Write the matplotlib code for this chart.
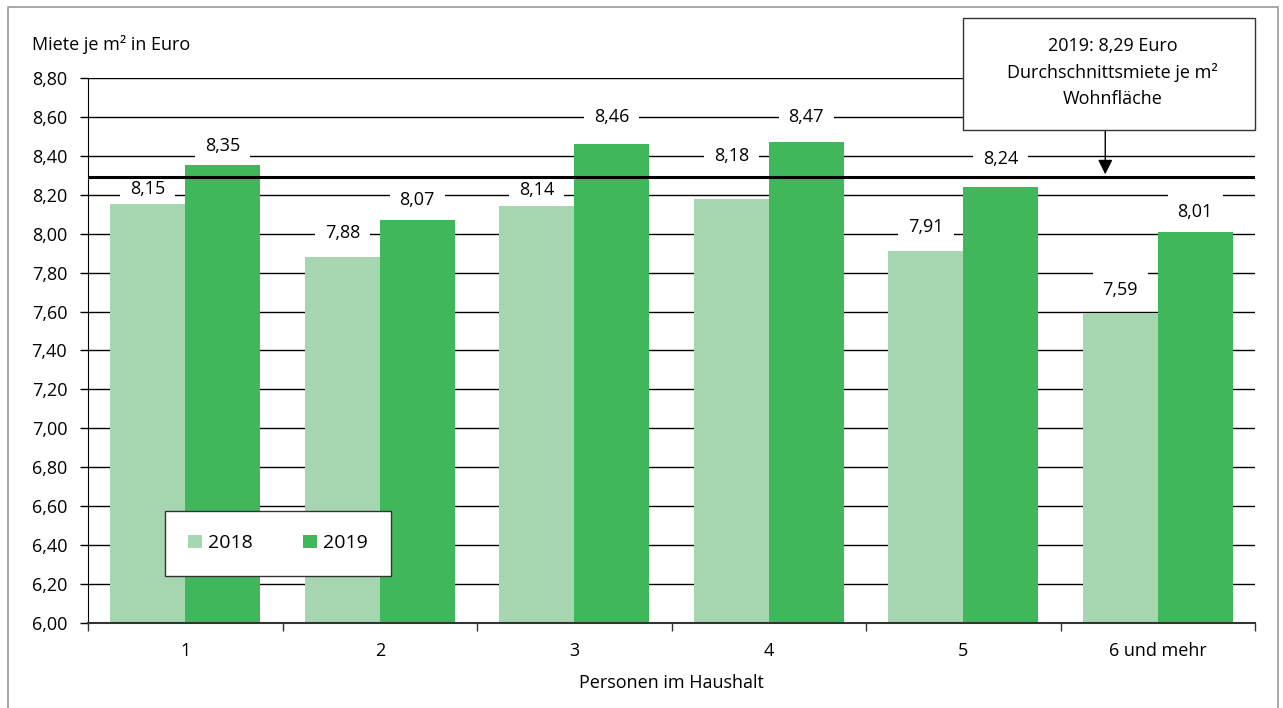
import numpy as np
import matplotlib.pyplot as plt
from matplotlib.patches import Rectangle

plt.rcParams['font.family'] = ['Open Sans', 'DejaVu Sans']

kategorien = ['1', '2', '3', '4', '5', '6 und mehr']
miete_2018 = [8.15, 7.88, 8.14, 8.18, 7.91, 7.59]
miete_2019 = [8.35, 8.07, 8.46, 8.47, 8.24, 8.01]
durchschnitt_2019 = 8.29
yticks = [6.0, 6.2, 6.4, 6.6, 6.8, 7.0, 7.2, 7.4, 7.6, 7.8, 8.0, 8.2, 8.4, 8.6, 8.8]

hell = '#a5d6b0'
dunkel = '#41b75b'
fs = 13

# Abstand der Beschriftung über dem Balken (Pixel), wie im Original von Hand gesetzt
abstand_2018 = [15, 24, 16, 43, 24, 23]
abstand_2019 = [19, 20, 27, 25, 28, 20]

fig = plt.figure(figsize=(12.83, 7.08), dpi=100)
ax = fig.add_axes([0.0686, 0.12, 0.9096, 0.77])

# grauer Rahmen um das Bild
fig.patches.append(Rectangle((0.006, -0.01), 0.99, 1.0, transform=fig.transFigure,
                             fill=False, edgecolor='#999999', lw=1.2))

x = np.arange(len(kategorien))
w = 0.385
ax.bar(x - w / 2, miete_2018, w, color=hell, label='2018', zorder=2)
ax.bar(x + w / 2, miete_2019, w, color=dunkel, label='2019', zorder=2)

ax.set_ylim(6.0, 8.8)
ax.set_xlim(-0.5, len(kategorien) - 0.5)
ax.set_yticks(yticks)
ax.set_yticklabels([f'{v:.2f}'.replace('.', ',') for v in yticks], fontsize=fs)
ax.yaxis.grid(True, color='black', lw=1.0, zorder=1)
ax.set_axisbelow(True)

ax.set_xticks(x)
ax.set_xticklabels(kategorien, fontsize=fs)
ax.tick_params(axis='x', length=0, pad=14)
ax.set_xticks(np.arange(len(kategorien) + 1) - 0.5, minor=True)
ax.tick_params(axis='x', which='minor', length=6, width=1, color='#333333')
ax.tick_params(axis='y', length=6, width=1, pad=9)

for s in ['top', 'right']:
    ax.spines[s].set_visible(False)
ax.spines['left'].set_color('black')
ax.spines['bottom'].set_color('#333333')
ax.spines['bottom'].set_linewidth(1.5)

box = dict(boxstyle='square,pad=0.55', facecolor='white', edgecolor='none')
for xs, werte, abst in [(x - w / 2, miete_2018, abstand_2018), (x + w / 2, miete_2019, abstand_2019)]:
    for xi, v, a in zip(xs, werte, abst):
        ax.annotate(f'{v:.2f}'.replace('.', ','), xy=(xi, v), xytext=(0, a * 0.72),
                    textcoords='offset points', ha='center', va='center',
                    fontsize=fs, bbox=box, zorder=1.5)

ax.axhline(durchschnitt_2019, color='black', lw=2.2, zorder=4)

# Hinweiskasten mit Pfeil
bx0, bx1, by0, by1 = 963 / 1283, 1255 / 1283, 1 - 130 / 708, 1 - 18 / 708
fig.patches.append(Rectangle((bx0, by0), bx1 - bx0, by1 - by0, transform=fig.transFigure,
                             facecolor='white', edgecolor='#333333', lw=1, zorder=5))
fig.text((bx0 + bx1) / 2 + 0.003, (by0 + by1) / 2 + 0.002,
         '2019: 8,29 Euro\nDurchschnittsmiete je m²\nWohnfläche',
         ha='center', va='center', fontsize=fs, linespacing=1.55, zorder=6)
ax.annotate('', xy=(4.73, durchschnitt_2019 + 0.015), xycoords='data',
            xytext=(4.73, by0), textcoords=('data', 'figure fraction'),
            arrowprops=dict(arrowstyle='-|>', color='black', lw=1, mutation_scale=22,
                            shrinkA=0, shrinkB=0),
            annotation_clip=False, zorder=5)

ax.set_xlabel('Personen im Haushalt', fontsize=fs, labelpad=10)
fig.text(0.025, 0.937, 'Miete je m² in Euro', fontsize=fs, ha='left', va='center')

leg = ax.legend(loc='lower left', bbox_to_anchor=(0.066, 0.087), ncol=2, fontsize=fs + 1,
                frameon=True, fancybox=False, edgecolor='#333333', framealpha=1,
                handlelength=0.7, handleheight=0.7, columnspacing=2.6, borderpad=1.2,
                handletextpad=0.3, borderaxespad=0)
leg.get_frame().set_linewidth(1)
leg.set_zorder(6)

fig.savefig('out.png', dpi=100)
